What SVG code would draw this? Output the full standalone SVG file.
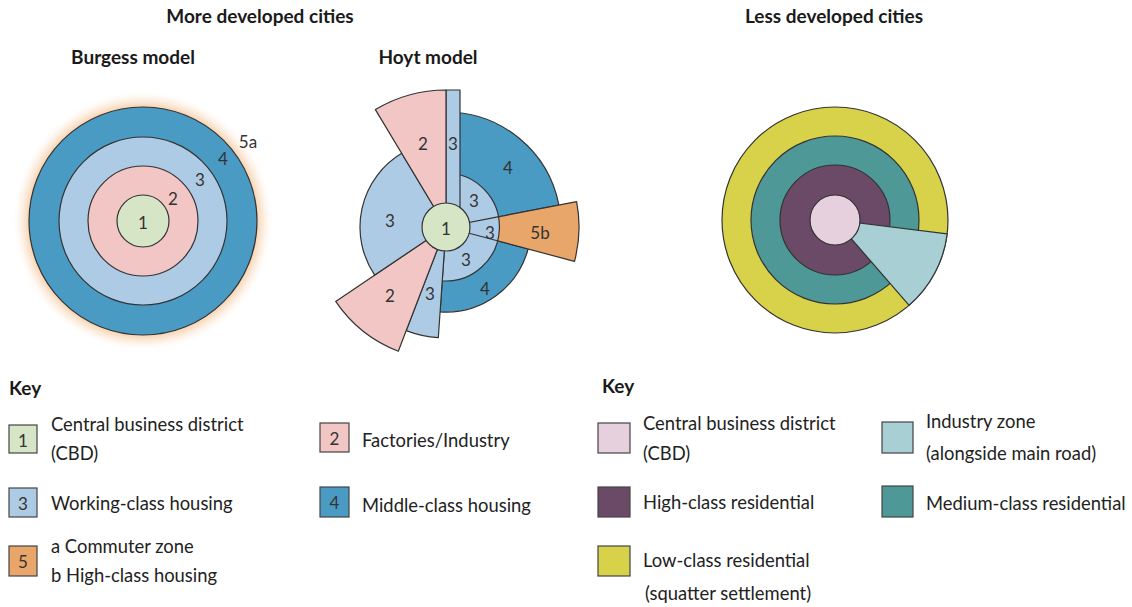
<svg xmlns="http://www.w3.org/2000/svg" width="1132" height="607" viewBox="0 0 1132 607">
  <style>
    .title { font-family: Lato, "Liberation Sans", sans-serif; font-weight: 700; font-size: 19px; fill: #1a1a1a; }
    .label { font-family: Lato, "Liberation Sans", sans-serif; font-size: 18.4px; fill: #222; }
    .num { font-family: Lato, "Liberation Sans", sans-serif; font-size: 17px; fill: #333; text-anchor: middle; dominant-baseline: central; }
    .zone { stroke: #333; stroke-width: 1.2; stroke-linejoin: round; }
    .sw { stroke: #444; stroke-width: 1.2; }
    .cbd { fill: #d6e5c6; }
    .fac { fill: #f1c6c5; }
    .work { fill: #aecbe5; }
    .mid { fill: #4a9bc4; }
    .high { fill: #e9a66b; }
    .l-cbd { fill: #e6d0dd; }
    .l-high { fill: #6b4a68; }
    .l-med { fill: #4e9898; }
    .l-low { fill: #d8d24b; }
    .l-ind { fill: #a7cfd4; }
  </style>
  <defs>
    <radialGradient id="commuterGlow" cx="0.5" cy="0.5" r="0.5">
      <stop offset="0.85" stop-color="#f2b985" stop-opacity="1"/>
      <stop offset="0.92" stop-color="#f6d0ab" stop-opacity="0.6"/>
      <stop offset="1" stop-color="#fbe7d2" stop-opacity="0"/>
    </radialGradient>
    <filter id="soft" x="-20%" y="-20%" width="140%" height="140%">
      <feGaussianBlur stdDeviation="2"/>
    </filter>
  </defs>

  <rect width="1132" height="607" fill="#ffffff"/>

  <!-- headings -->
  <g id="headings">
    <text class="title" x="260" y="23" text-anchor="middle">More developed cities</text>
    <text class="title" x="133" y="64" text-anchor="middle">Burgess model</text>
    <text class="title" x="428" y="64" text-anchor="middle">Hoyt model</text>
    <text class="title" x="834" y="23" text-anchor="middle">Less developed cities</text>
  </g>

  <!-- Burgess concentric zone model -->
  <g id="burgess">
    <circle cx="143" cy="221" r="128" fill="url(#commuterGlow)" filter="url(#soft)"/>
    <circle class="zone mid" cx="143" cy="221" r="114"/>
    <circle class="zone work" cx="143" cy="221" r="84"/>
    <circle class="zone fac" cx="143" cy="221" r="55"/>
    <circle class="zone cbd" cx="143" cy="221" r="26"/>
    <text class="num" x="143" y="222">1</text>
    <text class="num" x="173" y="198">2</text>
    <text class="num" x="200" y="179">3</text>
    <text class="num" x="223" y="158">4</text>
    <text class="num" x="248" y="141">5a</text>
  </g>

  <!-- Hoyt sector model -->
  <g id="hoyt">
    <path class="zone mid" d="M446,227 L446,112 A115,115 0 0 1 558.9,205.1 Z"/>
    <path class="zone mid" d="M446,227 L528.1,249 A85,85 0 0 1 440.1,311.8 Z"/>
    <path class="zone high" d="M446,227 L576.6,201.6 A133,133 0 0 1 574.5,261.4 Z"/>
    <path class="zone work" d="M446,227 L446,173 A54,54 0 1 1 442.2,280.9 Z"/>
    <line class="zone" x1="446" y1="227" x2="499" y2="216.7"/>
    <line class="zone" x1="446" y1="227" x2="498.2" y2="241"/>
    <path class="zone work" d="M446,227 L446,90 L460,90 L460,227 Z"/>
    <path class="zone work" d="M446,227 L438.3,337.7 A111,111 0 0 1 406.2,330.6 Z"/>
    <path class="zone fac" d="M446,227 L398.3,351.2 A133,133 0 0 1 335.7,301.4 Z"/>
    <path class="zone work" d="M446,227 L374.7,275.1 A86,86 0 0 1 401.7,153.3 Z"/>
    <path class="zone fac" d="M446,227 L375.4,109.6 A137,137 0 0 1 446,90 Z"/>
    <circle class="zone cbd" cx="446" cy="227" r="24"/>
    <text class="num" x="446" y="228">1</text>
    <text class="num" x="423" y="143">2</text>
    <text class="num" x="453" y="143">3</text>
    <text class="num" x="508" y="167">4</text>
    <text class="num" x="390" y="220">3</text>
    <text class="num" x="474" y="200">3</text>
    <text class="num" x="490" y="232">3</text>
    <text class="num" x="540" y="232">5b</text>
    <text class="num" x="466" y="259">3</text>
    <text class="num" x="485" y="288">4</text>
    <text class="num" x="390" y="295">2</text>
    <text class="num" x="430" y="293">3</text>
  </g>

  <!-- Less developed city model -->
  <g id="ldc">
    <circle class="zone l-low" cx="835" cy="220" r="113"/>
    <circle class="zone l-med" cx="835" cy="220" r="84"/>
    <circle class="zone l-high" cx="835" cy="220" r="55"/>
    <path class="zone l-ind" d="M835,220 L947.2,233.8 A113,113 0 0 1 909.1,305.3 Z"/>
    <circle class="zone l-cbd" cx="835" cy="220" r="25"/>
  </g>

  <!-- key for the more developed city models -->
  <g id="key-mdc">
    <text class="title" x="9" y="395">Key</text>
    <g id="key-1">
      <rect class="sw cbd" x="9" y="425" width="28" height="28"/>
      <text class="num" x="23" y="440">1</text>
      <text class="label" x="51" y="431">Central business district</text>
      <text class="label" x="51" y="460">(CBD)</text>
    </g>
    <g id="key-3">
      <rect class="sw work" x="9" y="488" width="28" height="29"/>
      <text class="num" x="23" y="503">3</text>
      <text class="label" x="51" y="510">Working-class housing</text>
    </g>
    <g id="key-5">
      <rect class="sw high" x="9" y="546" width="28" height="30"/>
      <text class="num" x="23" y="561">5</text>
      <text class="label" x="51" y="553">a Commuter zone</text>
      <text class="label" x="51" y="582">b High-class housing</text>
    </g>
    <g id="key-2">
      <rect class="sw fac" x="320" y="423" width="29" height="29"/>
      <text class="num" x="334.5" y="438">2</text>
      <text class="label" x="362" y="447">Factories/Industry</text>
    </g>
    <g id="key-4">
      <rect class="sw mid" x="320" y="487" width="29" height="30"/>
      <text class="num" x="334.5" y="502">4</text>
      <text class="label" x="362" y="512">Middle-class housing</text>
    </g>
  </g>

  <!-- key for the less developed city model -->
  <g id="key-ldc">
    <text class="title" x="602" y="393">Key</text>
    <g id="key-l-cbd">
      <rect class="sw l-cbd" x="598" y="423" width="32" height="30"/>
      <text class="label" x="643" y="430">Central business district</text>
      <text class="label" x="643" y="460">(CBD)</text>
    </g>
    <g id="key-l-high">
      <rect class="sw l-high" x="598" y="487" width="32" height="30"/>
      <text class="label" x="643" y="509">High-class residential</text>
    </g>
    <g id="key-l-low">
      <rect class="sw l-low" x="598" y="546" width="32" height="30"/>
      <text class="label" x="643" y="567">Low-class residential</text>
      <text class="label" x="645" y="600">(squatter settlement)</text>
    </g>
    <g id="key-l-ind">
      <rect class="sw l-ind" x="882" y="422" width="31" height="31"/>
      <text class="label" x="926" y="428">Industry zone</text>
      <text class="label" x="926" y="460">(alongside main road)</text>
    </g>
    <g id="key-l-med">
      <rect class="sw l-med" x="882" y="486" width="31" height="31"/>
      <text class="label" x="926" y="510">Medium-class residential</text>
    </g>
  </g>
</svg>
